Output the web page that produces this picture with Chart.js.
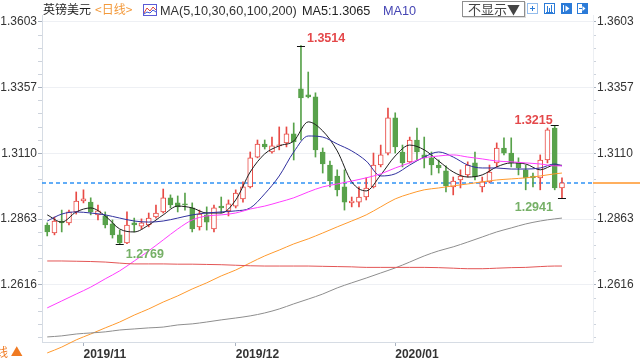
<!DOCTYPE html>
<html>
<head>
<meta charset="utf-8">
<title>英镑美元 日线</title>
<script src="https://cdn.jsdelivr.net/npm/chart.js@4.4.1/dist/chart.umd.min.js"></script>
<style>
  html, body { margin: 0; padding: 0; background: #fff; }
  #wrap { position: relative; width: 640px; height: 360px; overflow: hidden; }
  #chart { position: absolute; left: 0; top: 0; }
  .hd { position: absolute; white-space: nowrap; line-height: 14px; font-size: 12px; }
  .cjk { font-family: "Noto Sans CJK SC", sans-serif; }
  .lat { font-family: "Liberation Sans", Arial, sans-serif; font-size: 12.7px; }
  .btn { position: absolute; left: 462px; top: 1px; width: 56px; height: 14px; padding-left: 5px;
         border: 1px solid #8f8f8f; color: #444; font-size: 13px; line-height: 14px;
         font-family: "Noto Sans CJK SC", sans-serif; box-shadow: 1px 1px 0 #ddd; }
  .ico { position: absolute; top: 3px; }
</style>
</head>
<body>
<div id="wrap">
  <canvas id="chart" width="640" height="360"></canvas>

  <div class="hd cjk" style="left:43px;top:2px;color:#1e1e1e;">英镑美元</div>
  <div class="hd cjk" style="left:95px;top:2px;color:#f39a3c;">&lt;日线&gt;</div>
  <svg class="ico" style="left:143px;top:4px" width="14" height="12" viewBox="0 0 14 12">
    <rect x="0.5" y="0.5" width="13" height="11" fill="#fff" stroke="#5b5bd6"/>
    <polyline points="1,9 4,4 7,7 10,3 13,6" fill="none" stroke="#e0463c"/>
    <polyline points="1,10 4,8 7,9 10,6 13,8" fill="none" stroke="#3b56d6"/>
  </svg>
  <div class="hd lat" style="left:160px;top:4px;color:#333;">MA(5,10,30,60,100,200)</div>
  <div class="hd lat" id="ma5txt" style="left:302px;top:4px;color:#222;"></div>
  <div class="hd lat" style="left:383px;top:4px;color:#4646b4;">MA10</div>

  <div class="btn">不显示▼</div>
  <svg class="ico" style="left:527px" width="11" height="11" viewBox="0 0 11 11">
    <rect x="0.5" y="0.5" width="10" height="10" fill="none" stroke="#2b7bd8" stroke-dasharray="1,1"/>
    <path d="M5.5 3v5M3 5.5h5" stroke="#2b7bd8"/>
  </svg>
  <svg class="ico" style="left:544px" width="11" height="11" viewBox="0 0 11 11">
    <rect x="0.5" y="0.5" width="10" height="10" fill="none" stroke="#2b7bd8"/>
    <path d="M3.5 3v6M5.5 5v4M7.5 2v7M2 9.5h7" stroke="#2b7bd8"/>
  </svg>
  <svg class="ico" style="left:561px" width="11" height="11" viewBox="0 0 11 11">
    <rect x="0" y="0" width="11" height="11" fill="#2b7bd8"/>
    <path d="M2.5 2v7" stroke="#fff"/>
    <path d="M4.5 2.5l4 3-4 3z" fill="#fff"/>
  </svg>
  <svg class="ico" style="left:577px" width="11" height="11" viewBox="0 0 11 11">
    <rect x="0.5" y="0.5" width="10" height="10" fill="#fff" stroke="#2b7bd8"/>
    <rect x="5" y="0" width="6" height="11" fill="#2b7bd8"/>
    <path d="M2 5.5h4" stroke="#2b7bd8"/>
    <path d="M5.5 3l3 2.5-3 2.5z" fill="#fff"/>
  </svg>

  <div class="hd cjk" style="left:-4px;top:345px;color:#f07a22;">线 ▲</div>
</div>

<script>
// daily GBP/USD candles, oldest first
var opens  = [1.2841, 1.2811, 1.2856, 1.2849, 1.2890, 1.2931, 1.2927, 1.2879, 1.2875, 1.2845,
              1.2804, 1.2774, 1.2849, 1.2837, 1.2841, 1.2871, 1.2890, 1.2943, 1.2924, 1.2920,
              1.2905, 1.2834, 1.2879, 1.2826, 1.2912, 1.2894, 1.2912, 1.2939, 1.2984, 1.3096,
              1.3145, 1.3115, 1.3138, 1.3149, 1.3183, 1.3352, 1.3329, 1.3322, 1.3115, 1.3066,
              1.3025, 1.2984, 1.2924, 1.2927, 1.2946, 1.2984, 1.3066, 1.3111, 1.3243, 1.3115,
              1.3078, 1.3160, 1.3104, 1.3093, 1.3066, 1.3044, 1.2984, 1.3010, 1.3029, 1.3074,
              1.2984, 1.3003, 1.3074, 1.3130, 1.3111, 1.3074, 1.3048, 1.3025, 1.3018, 1.3085,
              1.3205, 1.2980];
var highs  = [1.2849, 1.2871, 1.2897, 1.2897, 1.2965, 1.2973, 1.2943, 1.2916, 1.2890, 1.2860,
              1.2822, 1.2890, 1.2867, 1.2864, 1.2886, 1.2916, 1.2976, 1.2954, 1.2950, 1.2961,
              1.2924, 1.2897, 1.2909, 1.2916, 1.2946, 1.2935, 1.2973, 1.3003, 1.3115, 1.3160,
              1.3160, 1.3171, 1.3209, 1.3209, 1.3224, 1.3514, 1.3415, 1.3337, 1.3130, 1.3081,
              1.3048, 1.3048, 1.2946, 1.2984, 1.3018, 1.3111, 1.3141, 1.3280, 1.3262, 1.3141,
              1.3171, 1.3205, 1.3171, 1.3115, 1.3085, 1.3063, 1.3021, 1.3048, 1.3078, 1.3115,
              1.3021, 1.3066, 1.3149, 1.3168, 1.3168, 1.3093, 1.3066, 1.3036, 1.3104, 1.3205,
              1.3215, 1.3018];
var lows   = [1.2800, 1.2804, 1.2815, 1.2841, 1.2882, 1.2924, 1.2879, 1.2860, 1.2830, 1.2792,
              1.2769, 1.2771, 1.2815, 1.2826, 1.2834, 1.2867, 1.2886, 1.2905, 1.2890, 1.2897,
              1.2815, 1.2822, 1.2822, 1.2815, 1.2886, 1.2875, 1.2905, 1.2927, 1.2980, 1.3093,
              1.3126, 1.3111, 1.3123, 1.3134, 1.3085, 1.3160, 1.3318, 1.3096, 1.3036, 1.2984,
              1.2950, 1.2897, 1.2909, 1.2909, 1.2935, 1.2980, 1.3059, 1.3104, 1.3111, 1.3059,
              1.3074, 1.3085, 1.3055, 1.3029, 1.3036, 1.2965, 1.2954, 1.2980, 1.3021, 1.3010,
              1.2965, 1.2999, 1.3059, 1.3104, 1.3059, 1.3029, 1.2973, 1.2984, 1.2973, 1.3074,
              1.2973, 1.2941];
var closes = [1.2815, 1.2856, 1.2849, 1.2890, 1.2931, 1.2939, 1.2890, 1.2894, 1.2841, 1.2804,
              1.2774, 1.2841, 1.2841, 1.2849, 1.2867, 1.2886, 1.2943, 1.2916, 1.2909, 1.2916,
              1.2826, 1.2882, 1.2852, 1.2905, 1.2905, 1.2920, 1.2961, 1.2984, 1.3093, 1.3145,
              1.3134, 1.3138, 1.3141, 1.3183, 1.3153, 1.3318, 1.3322, 1.3123, 1.3070, 1.3006,
              1.2973, 1.2927, 1.2931, 1.2946, 1.2980, 1.3066, 1.3104, 1.3243, 1.3134, 1.3074,
              1.3160, 1.3115, 1.3093, 1.3066, 1.3055, 1.2988, 1.3006, 1.3025, 1.3066, 1.3021,
              1.3003, 1.3040, 1.3130, 1.3111, 1.3074, 1.3055, 1.3018, 1.3018, 1.3085, 1.3198,
              1.2980, 1.2999];

var maIdx  = [0, 2, 4, 6, 8, 10, 12, 14, 16, 18, 20, 22, 24, 26, 28, 30, 32, 34, 36,
              38, 40, 42, 44, 46, 48, 50, 52, 54, 56, 58, 60, 62, 64, 66, 68, 70, 71];
var ma5    = [1.2879, 1.2852, 1.2890, 1.2905, 1.2875, 1.2826, 1.2815, 1.2841, 1.2879, 1.2912,
              1.2905, 1.2886, 1.2886, 1.2935, 1.3040, 1.3108, 1.3138, 1.3156, 1.3228, 1.3194,
              1.3119, 1.3003, 1.2969, 1.3029, 1.3100, 1.3141, 1.3123, 1.3081, 1.3040, 1.3021,
              1.3029, 1.3059, 1.3074, 1.3070, 1.3048, 1.3066, 1.3065];
var ma10   = [1.2856, 1.2882, 1.2890, 1.2886, 1.2879, 1.2867, 1.2856, 1.2852, 1.2856, 1.2867,
              1.2879, 1.2886, 1.2890, 1.2894, 1.2905, 1.2958, 1.3025, 1.3115, 1.3175, 1.3171,
              1.3145, 1.3119, 1.3081, 1.3025, 1.3033, 1.3066, 1.3096, 1.3115, 1.3096, 1.3066,
              1.3055, 1.3055, 1.3051, 1.3051, 1.3055, 1.3070, 1.3063];
var ma30   = [1.2530, 1.2556, 1.2582, 1.2608, 1.2639, 1.2669, 1.2706, 1.2744, 1.2785, 1.2826,
              1.2860, 1.2875, 1.2879, 1.2886, 1.2901, 1.2912, 1.2927, 1.2943, 1.2965, 1.2984,
              1.2995, 1.3006, 1.3018, 1.3033, 1.3055, 1.3074, 1.3093, 1.3100, 1.3104, 1.3096,
              1.3089, 1.3081, 1.3078, 1.3074, 1.3070, 1.3063, 1.3063];
var ma60   = [1.2361, 1.2383, 1.2410, 1.2432, 1.2455, 1.2477, 1.2503, 1.2526, 1.2552, 1.2575,
              1.2601, 1.2624, 1.2650, 1.2672, 1.2699, 1.2725, 1.2747, 1.2770, 1.2789, 1.2811,
              1.2834, 1.2856, 1.2879, 1.2909, 1.2939, 1.2958, 1.2973, 1.2980, 1.2988, 1.2995,
              1.3003, 1.3010, 1.3014, 1.3018, 1.3025, 1.3033, 1.3036];
var ma100  = [1.2421, 1.2425, 1.2432, 1.2436, 1.2440, 1.2447, 1.2451, 1.2455, 1.2458, 1.2466,
              1.2470, 1.2477, 1.2485, 1.2492, 1.2500, 1.2511, 1.2526, 1.2545, 1.2563, 1.2582,
              1.2605, 1.2624, 1.2642, 1.2661, 1.2680, 1.2702, 1.2725, 1.2744, 1.2759, 1.2777,
              1.2796, 1.2815, 1.2830, 1.2845, 1.2856, 1.2864, 1.2867];
var ma200  = [1.2706, 1.2706, 1.2705, 1.2704, 1.2702, 1.2698, 1.2695, 1.2695, 1.2695, 1.2694,
              1.2694, 1.2693, 1.2692, 1.2690, 1.2688, 1.2687, 1.2687, 1.2687, 1.2687, 1.2686,
              1.2685, 1.2684, 1.2682, 1.2682, 1.2682, 1.2682, 1.2682, 1.2681, 1.2679, 1.2677,
              1.2677, 1.2679, 1.2681, 1.2682, 1.2685, 1.2687, 1.2687];

var yTickValues = [1.2616, 1.2863, 1.3110, 1.3357, 1.3603];
var xTickIdx    = [5, 26, 48];
var xTickLabels = ['2019/11', '2019/12', '2020/01'];

var RED = '#e84a45', GREEN = '#58a24b';
var FONT = '"Liberation Sans", Arial, sans-serif';
var yMin = 1.2402, yMax = 1.3629;

document.getElementById('ma5txt').textContent = 'MA5:' + ma5[ma5.length - 1].toFixed(4);

var bodies = [], wicks = [], lineColors = [], fills = [];
for (var i = 0; i < opens.length; i++) {
  var up = closes[i] >= opens[i];
  bodies.push({ x: i, y: [opens[i], closes[i]] });
  wicks.push({ x: i, y: [lows[i], highs[i]] });
  lineColors.push(up ? RED : GREEN);
  fills.push(up ? '#ffffff' : GREEN);
}

function maPoints(vals) {
  return vals.map(function (v, k) { return { x: maIdx[k], y: v }; });
}
function maLine(vals, color, extra) {
  var ds = {
    type: 'line', data: maPoints(vals), borderColor: color, borderWidth: 1,
    pointRadius: 0, fill: false, cubicInterpolationMode: 'monotone', order: 0
  };
  return Object.assign(ds, extra || {});
}

function argExt(arr, from, better) {
  var best = from;
  for (var k = from; k < arr.length; k++) if (better(arr[k], arr[best])) best = k;
  return best;
}
var gt = function (a, b) { return a > b; }, lt = function (a, b) { return a < b; };
var recent = opens.length - 10;
var iHi = argExt(highs, 0, gt), iLo = argExt(lows, 0, lt);
var iRecHi = argExt(highs, recent, gt), iRecLo = argExt(lows, recent, lt);
var marks = [
  { i: iHi, v: highs[iHi], color: '#e4484a', align: 'left', dx: 6, dy: -7 },
  { i: iLo, v: lows[iLo], color: '#76b067', align: 'left', dx: 6, dy: 10 },
  { i: iRecHi, v: highs[iRecHi], color: '#e4484a', align: 'right', dx: -2, dy: -5 },
  { i: iRecLo, v: lows[iRecLo], color: '#76b067', align: 'right', dx: -9, dy: 9 }
];

function yTicks() {
  var step = (yTickValues[yTickValues.length - 1] - yTickValues[0]) / (yTickValues.length - 1) / 5;
  var out = [];
  for (var k = -5; k <= (yTickValues.length - 1) * 5; k++) {
    var v = yTickValues[0] + k * step;
    if (v < yMin || v > yMax + 1e-9) continue;
    var major = k >= 0 && k % 5 === 0;
    out.push({ value: major ? yTickValues[k / 5] : v, major: major });
  }
  return out;
}

// last close: dashed blue across the plot, orange over the right axis
var priceLine = {
  id: 'priceLine',
  beforeDatasetsDraw: function (chart) {
    var ctx = chart.ctx, a = chart.chartArea;
    var y = Math.round(chart.scales.y.getPixelForValue(closes[closes.length - 1]));
    ctx.save();
    ctx.lineWidth = 1.4;
    ctx.strokeStyle = '#2f93f5';
    ctx.setLineDash([4, 3]);
    ctx.beginPath(); ctx.moveTo(a.left, y); ctx.lineTo(a.right, y); ctx.stroke();
    ctx.setLineDash([]);
    ctx.strokeStyle = '#ff9428';
    ctx.beginPath(); ctx.moveTo(a.right, y); ctx.lineTo(chart.width, y); ctx.stroke();
    ctx.restore();
  }
};

var hiLo = {
  id: 'hiLo',
  afterDatasetsDraw: function (chart) {
    var ctx = chart.ctx, xs = chart.scales.x, ys = chart.scales.y;
    ctx.save();
    marks.forEach(function (m) {
      var px = xs.getPixelForValue(m.i), py = ys.getPixelForValue(m.v);
      var ly = Math.round(py) + 0.5;
      ctx.strokeStyle = '#111';
      ctx.lineWidth = 1;
      ctx.beginPath(); ctx.moveTo(px - 4, ly); ctx.lineTo(px + 4, ly); ctx.stroke();
      ctx.fillStyle = m.color;
      ctx.font = 'bold 12.5px ' + FONT;
      ctx.textAlign = m.align;
      ctx.textBaseline = 'middle';
      ctx.fillText(m.v.toFixed(4), px + m.dx, py + m.dy);
    });
    ctx.restore();
  }
};

var yAxisBase = function (pos, width) {
  return {
    type: 'linear', position: pos, min: yMin, max: yMax, beginAtZero: false, display: true,
    afterFit: function (s) { s.width = width; },
    afterBuildTicks: function (s) { s.ticks = yTicks(); },
    ticks: {
      autoSkip: false, padding: 1, color: '#333', font: { size: 12, family: FONT },
      callback: function (v, idx, t) { return t[idx].major ? v.toFixed(4) : ''; }
    },
    grid: {
      drawOnChartArea: pos === 'left', tickLength: pos === 'left' ? 4 : 3,
      color: function (c) { return c.tick && c.tick.major ? '#eef0f4' : 'rgba(0,0,0,0)'; },
      tickColor: function (c) { return c.tick && c.tick.major ? '#aab3c0' : '#cdd3dc'; }
    },
    border: { color: pos === 'left' ? '#d6dce4' : '#eceff3' }
  };
};

Chart.defaults.font.family = FONT;

new Chart(document.getElementById('chart'), {
  type: 'bar',
  data: {
    datasets: [
      maLine(ma200, '#e35555'),
      maLine(ma100, '#8e8e8e'),
      maLine(ma60, '#ff9a2e', { clip: false }),
      maLine(ma30, '#ff3dff'),
      maLine(ma10, '#30309e'),
      maLine(ma5, '#1e1e1e'),
      {
        type: 'bar', data: bodies, backgroundColor: fills, borderColor: lineColors,
        borderWidth: 1, borderSkipped: false, barThickness: 5, minBarLength: 1,
        grouped: false, order: 1
      },
      {
        type: 'bar', data: wicks, backgroundColor: lineColors, borderWidth: 0,
        barThickness: 1, grouped: false, order: 2
      }
    ]
  },
  options: {
    responsive: false,
    animation: false,
    devicePixelRatio: 1,
    events: [],
    layout: { padding: { top: 15, left: 0, right: 0, bottom: 0 } },
    plugins: { legend: { display: false }, tooltip: { enabled: false } },
    scales: {
      x: {
        type: 'linear', min: -0.72, max: 75.28, offset: false,
        afterFit: function (s) { s.height = 18; },
        afterBuildTicks: function (s) {
          s.ticks = xTickIdx.map(function (v) { return { value: v }; });
        },
        ticks: {
          autoSkip: false, maxRotation: 0, align: 'start', padding: 1, color: '#333',
          font: { size: 12, weight: 'bold', family: FONT },
          callback: function (v) {
            var k = xTickIdx.indexOf(v);
            return k >= 0 ? xTickLabels[k] : '';
          }
        },
        grid: { drawOnChartArea: false, offset: false, tickLength: 4, tickColor: '#aab3c0' },
        border: { color: '#d6dce4' }
      },
      y: yAxisBase('left', 42),
      y2: yAxisBase('right', 47)
    }
  },
  plugins: [priceLine, hiLo]
});
</script>
</body>
</html>
